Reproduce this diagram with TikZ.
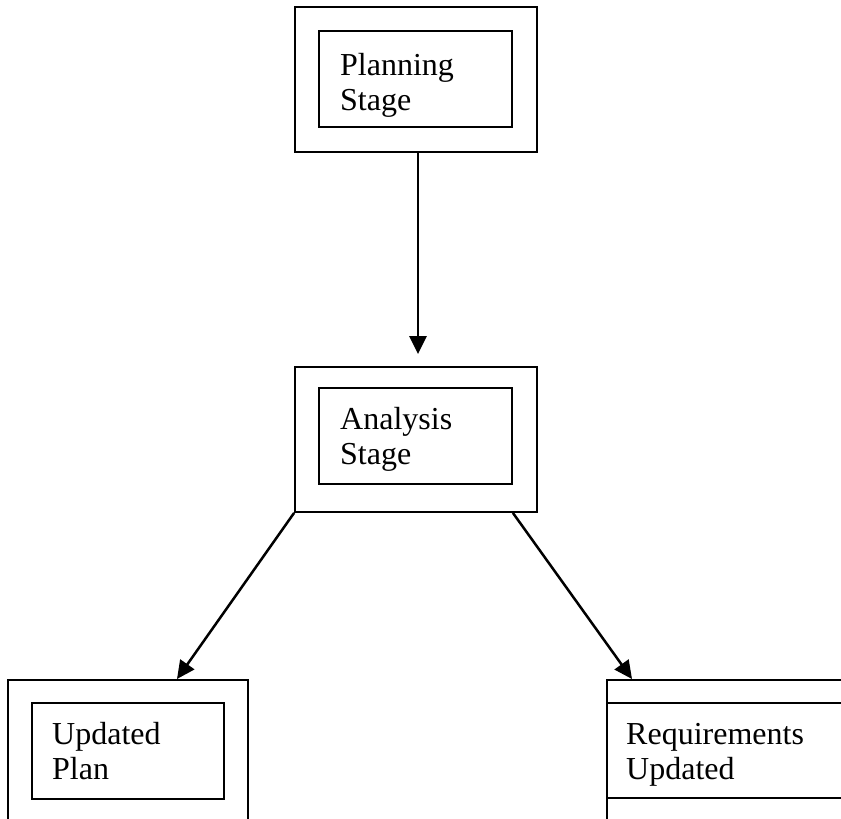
\documentclass[tikz,border=0pt]{standalone}
\usepackage{fontspec}
\setmainfont{Liberation Serif}
\usetikzlibrary{arrows.meta}
\begin{document}
\begin{tikzpicture}[
			x=1pt,y=-1pt,
			outerbox/.style={draw,line width=1.8pt,minimum width=242pt,minimum height=145pt,inner sep=0pt},
			innerbox/.style={draw,line width=1.8pt,minimum width=193pt,minimum height=96pt,inner sep=0pt},
			lbl/.style={anchor=north west,inner sep=0pt,align=left,font=\fontsize{32}{35}\selectfont},
			flow/.style={line width=2.5pt,-{Triangle[length=18pt,width=17pt]}}
		]
		\useasboundingbox (0,0) rectangle (841,819);
		\clip (0,0) rectangle (841,819);
		% boxes
		\node[outerbox] (plan) at (416,79.5) {};
		\node[innerbox] (planin) at (415.5,79) {};
		\node[outerbox] (ana) at (416,439.5) {};
		\node[innerbox] (anain) at (415.5,436) {};
		\node[outerbox,minimum width=240pt] (upd) at (128,752.5) {};
		\node[innerbox,minimum width=192pt] (updin) at (128,751) {};
		\node[outerbox] (req) at (728,752.5) {};
		\node[innerbox,minimum width=260pt,minimum height=95pt] (reqin) at (737,750.5) {};
		% texts
		\node[lbl] (plantxt) at (340,53) {Planning\\Stage};
		\node[lbl] (anatxt) at (340,407) {Analysis\\Stage};
		\node[lbl] (updtxt) at (52,722) {Updated\\Plan};
		\node[lbl] (reqtxt) at (626,723) {Requirements\\Updated};
		% arrows
		\coordinate (updtip) at (177,679);
		\coordinate (reqtip) at (632,679);
		\draw[flow,shorten >=12pt] (plan.south -| 418,0) -- (ana.north -| 418,0);
		\draw[flow] (ana.south west) -- (updtip);
		\draw[flow] (anain.east |- ana.south) -- (reqtip);
	\end{tikzpicture}
\end{document}
